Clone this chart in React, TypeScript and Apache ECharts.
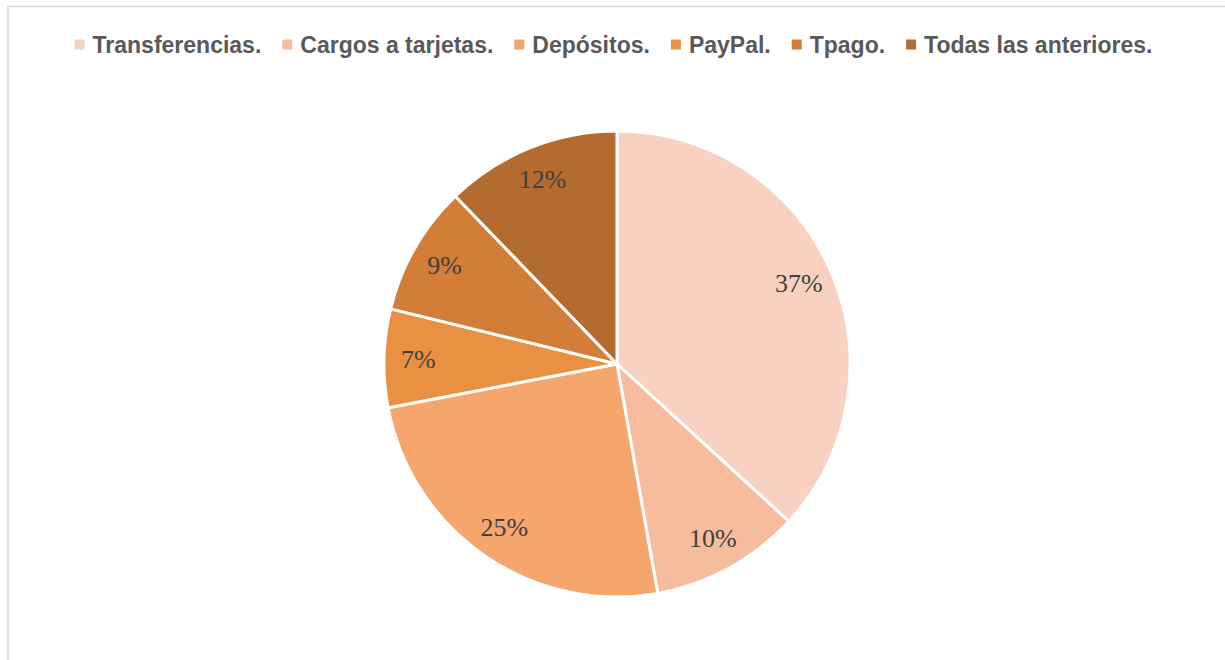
import React, { useEffect, useRef } from "react";
import * as echarts from "echarts";

const categories = [
  "Transferencias.",
  "Cargos a tarjetas.",
  "Depósitos.",
  "PayPal.",
  "Tpago.",
  "Todas las anteriores.",
];
const values = [36.8, 10.4, 24.8, 6.8, 9.0, 12.2];
const colors = ["#F8D1C0", "#F7BC9D", "#F5A66C", "#EA9042", "#D37E38", "#B46B30"];

export default function App() {
  const ref = useRef<HTMLDivElement>(null);
  useEffect(() => {
    if (!ref.current) return;
    const chart = echarts.init(ref.current, undefined, { renderer: "svg" });
    const data = categories.map((name, i) => ({
      name,
      value: values[i],
      itemStyle: { color: colors[i] },
    }));
    const R = 233;
    chart.setOption({
      animation: false,
      backgroundColor: "#ffffff",
      legend: {
        data: categories,
        top: 28,
        left: "center",
        itemWidth: 12,
        itemHeight: 12,
        itemGap: 19,
        icon: "rect",
        textStyle: {
          fontFamily: "Liberation Sans, Arial, sans-serif",
          fontWeight: "bold",
          fontSize: 23,
          color: "#595959",
          padding: [0, 0, 0, 2],
        },
      },
      graphic: [
        {
          type: "line",
          shape: { x1: 7, y1: 6.5, x2: 1225, y2: 6.5 },
          style: { stroke: "#d9d9d9", lineWidth: 1.5 },
          silent: true,
        },
        {
          type: "line",
          shape: { x1: 8, y1: 6, x2: 8, y2: 660 },
          style: { stroke: "#d9d9d9", lineWidth: 1.5 },
          silent: true,
        },
      ],
      series: [
        {
          type: "pie",
          center: [617, 364],
          radius: [0, R],
          startAngle: 90,
          clockwise: true,
          data,
          label: { show: false },
          labelLine: { show: false },
          itemStyle: { borderColor: "#ffffff", borderWidth: 3 },
          emphasis: { disabled: true },
        },
        {
          type: "pie",
          center: [617, 364],
          radius: [R * 0.68, R],
          startAngle: 90,
          clockwise: true,
          silent: true,
          data: categories.map((name, i) => ({
            name,
            value: values[i],
            itemStyle: { color: "rgba(0,0,0,0)" },
          })),
          itemStyle: { borderWidth: 0 },
          label: {
            show: true,
            position: "inside",
            formatter: (p: any) => Math.round(p.value) + "%",
            fontFamily: "Liberation Serif, serif",
            fontSize: 26,
            color: "#404040",
          },
          labelLine: { show: false },
          emphasis: { disabled: true },
        },
      ],
    });
    return () => chart.dispose();
  }, []);
  return (
    <div
      ref={ref}
      style={{ position: "absolute", left: 0, top: 0, width: 1225, height: 660 }}
    />
  );
}
